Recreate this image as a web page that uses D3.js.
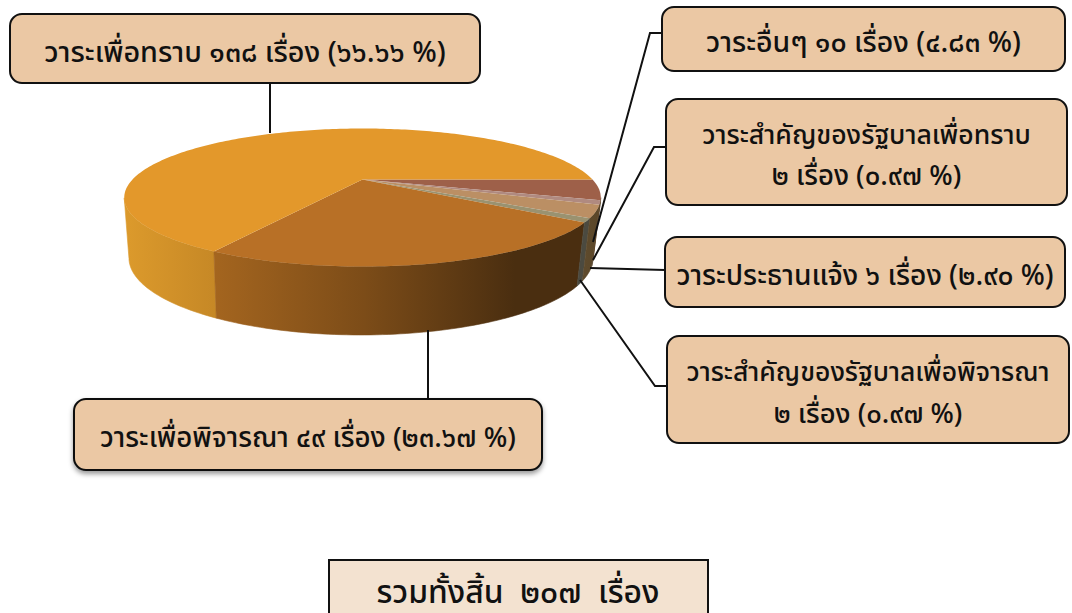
<!DOCTYPE html>
<html>
<head>
    <meta charset="utf-8">
    <title>วาระการประชุม</title>
    <script src="https://d3js.org/d3.v7.min.js"></script>
    <style>
        html, body { margin: 0; padding: 0; background: #fff; overflow: hidden; }
        text {
            font-family: "Noto Sans Thai", "Noto Sans Thai Looped", "Noto Sans", "DejaVu Sans", sans-serif;
            font-weight: 500;
            fill: #111;
        }
    </style>
</head>
<body>
    <div id="chart"></div>
    <script>
        const width = 1072;
        const height = 613;

        // data: order runs clockwise from the east edge of the pie
        const categories = ['วาระอื่นๆ', 'วาระสำคัญของรัฐบาลเพื่อทราบ', 'วาระประธานแจ้ง', 'วาระสำคัญของรัฐบาลเพื่อพิจารณา', 'วาระเพื่อพิจารณา', 'วาระเพื่อทราบ'];
        const counts = [10, 2, 6, 2, 49, 138];
        const labelLines = [
            ['วาระอื่นๆ ๑๐ เรื่อง (๔.๘๓ %)'],
            ['วาระสำคัญของรัฐบาลเพื่อทราบ', '๒ เรื่อง (๐.๙๗ %)'],
            ['วาระประธานแจ้ง ๖ เรื่อง (๒.๙๐ %)'],
            ['วาระสำคัญของรัฐบาลเพื่อพิจารณา', '๒ เรื่อง (๐.๙๗ %)'],
            ['วาระเพื่อพิจารณา ๔๙ เรื่อง (๒๓.๖๗ %)'],
            ['วาระเพื่อทราบ ๑๓๘ เรื่อง (๖๖.๖๖ %)']
        ];
        const totalLabel = 'รวมทั้งสิ้น  ๒๐๗  เรื่อง';

        // styles
        const topColors = ['#9e6049', '#b08a80', '#bb8f64', '#9a9270', '#b87026', '#e3982b'];
        const wallStops = [
            [[0, '#5e4526'], [1, '#5e4526']],
            [[0, '#5a4a34'], [1, '#5a4a34']],
            [[0, '#5e4a2c'], [1, '#5a4628']],
            [[0, '#4b4a40'], [1, '#4b4a40']],
            [[0, '#a4651f'], [0.4, '#7c4c18'], [0.8, '#4a2e10'], [1, '#4a2e10']],
            [[0, '#dc9a2c'], [1, '#c68826']]
        ];
        const wallRange = [[585, 601], [585, 601], [585, 601], [578, 592], [214, 590], [125, 216]];

        // box and leader layout: box [x, y, w, h], leader polyline
        const boxes = [
            [662, 7, 403, 64], [666, 99, 401, 106], [665, 237, 400, 70],
            [667, 336, 402, 107], [74, 399, 468, 71], [10, 14, 470, 69]
        ];
        const fontSizes = [[28.5], [26.6, 27.5], [28.2], [26.5, 27.4], [27.7], [28.8]];
        const leaders = [
            [[662, 33], [650, 33], [593, 242]],
            [[666, 147], [654, 147], [593, 260]],
            [[665, 270], [590, 268]],
            [[667, 386], [655, 386], [580, 280]],
            [[428, 399], [428, 330]],
            [[270, 83], [270, 133]]
        ];

        const svg = d3.select('#chart').append('svg')
            .attr('width', width)
            .attr('height', height)
            .style('display', 'block');
        const defs = svg.append('defs');

        defs.append('filter').attr('id', 'shadow')
            .attr('x', '-5%').attr('y', '-10%').attr('width', '110%').attr('height', '130%')
            .append('feDropShadow')
            .attr('dx', 0).attr('dy', 3).attr('stdDeviation', 2.5)
            .attr('flood-color', '#000').attr('flood-opacity', 0.4);

        // perspective projection of the pie's circle onto the screen
        const tilt = 0.261;
        function project(angle, plane) {
            const x = Math.sin(angle);
            const z = -Math.cos(angle);
            const w = 1 - tilt * z;
            return [plane.cx + plane.a * x / w, plane.cy + plane.b * z / w];
        }
        const topPlane = { cx: 362.5, cy: 179.5, a: 230, b: 64.3 };
        const bottomPlane = { cx: 361, cy: 237.8, a: 224, b: 71.8 };

        const pie = d3.pie()
            .sort(null)
            .startAngle(Math.PI / 2)
            .endAngle(Math.PI / 2 + 2 * Math.PI);
        const arcs = pie(counts);
        const line = d3.line();

        function arcAngles(d) {
            const n = Math.max(2, Math.ceil((d.endAngle - d.startAngle) / 0.02));
            return d3.range(n + 1).map(i => d.startAngle + (d.endAngle - d.startAngle) * i / n);
        }

        // walls, only the part in front of the silhouette tangent (z >= tilt)
        d3.range(arcs.length).reverse().forEach(i => {
            const grad = defs.append('linearGradient')
                .attr('id', 'wall' + i)
                .attr('gradientUnits', 'userSpaceOnUse')
                .attr('x1', wallRange[i][0]).attr('x2', wallRange[i][1])
                .attr('y1', 0).attr('y2', 0);
            wallStops[i].forEach(s => grad.append('stop').attr('offset', s[0]).attr('stop-color', s[1]));

            const angles = arcAngles(arcs[i]).filter(a => -Math.cos(a) >= tilt);
            if (angles.length < 2) return;
            const outline = angles.map(a => project(a, topPlane))
                .concat(angles.slice().reverse().map(a => project(a, bottomPlane)));
            svg.append('path')
                .attr('d', line(outline) + 'Z')
                .attr('fill', `url(#wall${i})`)
                .attr('stroke', `url(#wall${i})`)
                .attr('stroke-width', 0.6);
        });

        // top faces
        svg.append('g').selectAll('path')
            .data(arcs)
            .join('path')
            .attr('d', d => line([[topPlane.cx, topPlane.cy]].concat(arcAngles(d).map(a => project(a, topPlane)))) + 'Z')
            .attr('fill', (d, i) => topColors[i]);

        // leaders
        svg.append('g').selectAll('path')
            .data(leaders)
            .join('path')
            .attr('d', d => line(d))
            .attr('fill', 'none')
            .attr('stroke', '#111')
            .attr('stroke-width', 2);

        // label boxes
        const lineGap = 41;
        const box = svg.append('g').selectAll('g')
            .data(boxes)
            .join('g');
        box.append('rect')
            .attr('x', d => d[0]).attr('y', d => d[1])
            .attr('width', d => d[2]).attr('height', d => d[3])
            .attr('rx', 12)
            .attr('fill', '#ebc8a4')
            .attr('stroke', '#111')
            .attr('stroke-width', 2)
            .attr('filter', (d, i) => i === 4 ? 'url(#shadow)' : null);
        box.each(function(d, i) {
            const rows = labelLines[i];
            rows.forEach((row, j) => {
                d3.select(this).append('text')
                    .attr('x', d[0] + d[2] / 2)
                    .attr('y', d[1] + d[3] / 2 + 3 + (j - (rows.length - 1) / 2) * lineGap)
                    .attr('dy', '0.35em')
                    .attr('text-anchor', 'middle')
                    .attr('font-size', fontSizes[i][j])
                    .text(row);
            });
        });

        // total box runs off the bottom of the picture
        svg.append('rect')
            .attr('x', 329).attr('y', 560)
            .attr('width', 379).attr('height', 70)
            .attr('fill', '#f3e2d0')
            .attr('stroke', '#111')
            .attr('stroke-width', 2);
        svg.append('text')
            .attr('x', 518).attr('y', 603)
            .attr('text-anchor', 'middle')
            .attr('font-size', 31.9)
            .style('white-space', 'pre')
            .text(totalLabel);
    </script>
</body>
</html>
